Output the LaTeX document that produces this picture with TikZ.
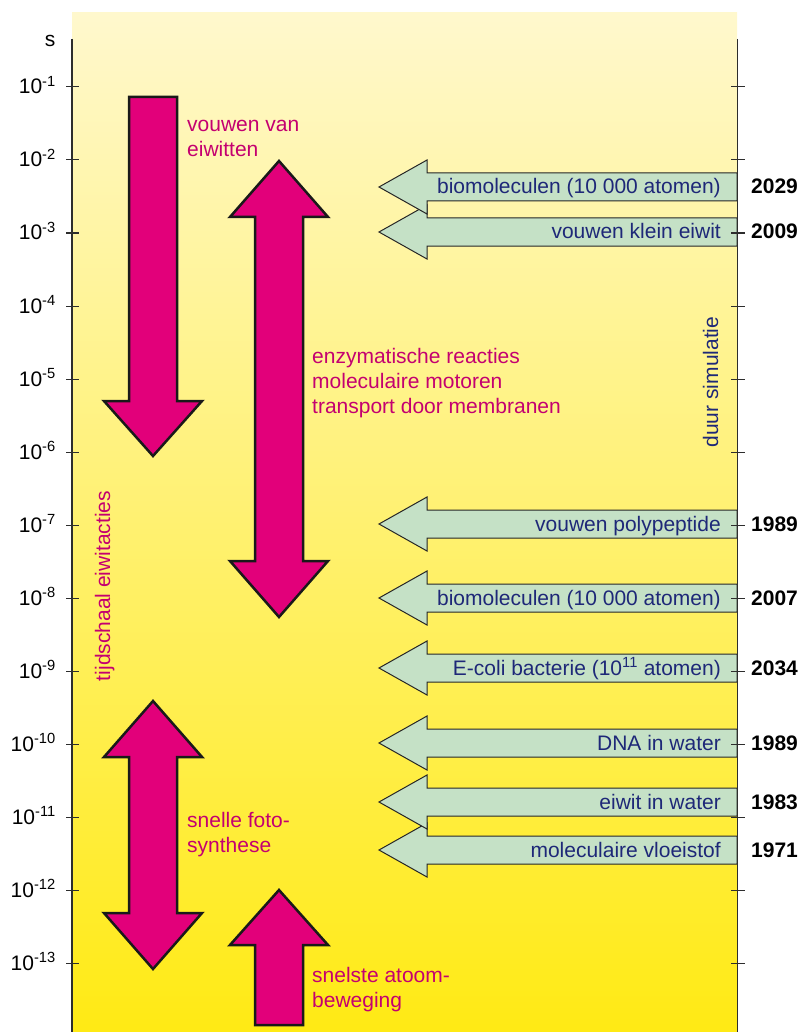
\documentclass[tikz,border=0pt]{standalone}
\usepackage{fontspec}
\setmainfont{Liberation Sans}

\definecolor{timefill}{RGB}{226,0,122}
\definecolor{timetext}{RGB}{196,0,112}
\definecolor{simfill}{RGB}{197,225,198}
\definecolor{simtext}{RGB}{30,40,120}
\definecolor{axisgray}{RGB}{45,45,45}

\tikzset{
  timearrow/.style={fill=timefill, draw=black!90, line width=2.5pt},
  simarrow/.style={fill=simfill, draw=black!85, line width=1pt},
  axisline/.style={draw=axisgray, line width=1.2pt},
  tickline/.style={draw=axisgray, line width=1pt},
  txt/.style={font=\fontsize{21}{25}\selectfont, inner sep=0pt},
  timelbl/.style={txt, text=timetext, anchor=base west},
  simlbl/.style={txt, text=simtext, anchor=base east},
  yearlbl/.style={txt, font=\fontsize{21}{25}\selectfont\bfseries, anchor=base west},
  powlbl/.style={txt, anchor=base east}
}

\begin{document}
\begin{tikzpicture}[x=1pt,y=1pt,yscale=-1,xscale=1]
\useasboundingbox (0,0) rectangle (798,1032);

%Shape: Rectangle [background]
\shade [top color={rgb,255:red,255;green,248;blue,205}, middle color={rgb,255:red,255;green,242;blue,145}, bottom color={rgb,255:red,255;green,234;blue,20}] (72,13) rectangle (737,1032);

%Shape: Arrow [vouwen van eiwitten]
\draw [timearrow] (129,97) -- (177,97) -- (177,401) -- (202,401) -- (153,456) -- (104,401) -- (129,401) -- cycle ;
%Shape: Arrow [enzymatische reacties]
\draw [timearrow] (279,161) -- (328,217) -- (303,217) -- (303,561) -- (328,561) -- (279,617) -- (230,561) -- (255,561) -- (255,217) -- (230,217) -- cycle ;
%Shape: Arrow [snelle fotosynthese]
\draw [timearrow] (153,701) -- (202,757) -- (177,757) -- (177,913) -- (202,913) -- (153,969) -- (104,913) -- (129,913) -- (129,757) -- (104,757) -- cycle ;
%Shape: Arrow [snelste atoombeweging]
\draw [timearrow] (279,890) -- (328,945) -- (303,945) -- (303,1025) -- (255,1025) -- (255,945) -- (230,945) -- cycle ;

%Shape: Arrow [sim 2009]
\draw [simarrow] (737,218) -- (427,218) -- (427,205) -- (379,232) -- (427,259) -- (427,246) -- (737,246) -- cycle ;
%Shape: Arrow [sim 2029]
\draw [simarrow] (737,173) -- (427,173) -- (427,160) -- (379,187) -- (427,214) -- (427,201) -- (737,201) -- cycle ;
%Shape: Arrow [sim 1989]
\draw [simarrow] (737,510) -- (427,510) -- (427,497) -- (379,524) -- (427,551) -- (427,538) -- (737,538) -- cycle ;
%Shape: Arrow [sim 2007]
\draw [simarrow] (737,584) -- (427,584) -- (427,571) -- (379,598) -- (427,625) -- (427,612) -- (737,612) -- cycle ;
%Shape: Arrow [sim 2034]
\draw [simarrow] (737,654) -- (427,654) -- (427,641) -- (379,668) -- (427,695) -- (427,682) -- (737,682) -- cycle ;
%Shape: Arrow [sim 1989 b]
\draw [simarrow] (737,729) -- (427,729) -- (427,716) -- (379,743) -- (427,770) -- (427,757) -- (737,757) -- cycle ;
%Shape: Arrow [sim 1971]
\draw [simarrow] (737,836) -- (427,836) -- (427,823) -- (379,850) -- (427,877) -- (427,864) -- (737,864) -- cycle ;
%Shape: Arrow [sim 1983]
\draw [simarrow] (737,788) -- (427,788) -- (427,775) -- (379,802) -- (427,829) -- (427,816) -- (737,816) -- cycle ;

%Straight Lines [left axis]
\draw [axisline] (72,39) -- (72,1032) ;
%Straight Lines [right axis]
\draw [axisline] (737.5,39) -- (737.5,1032) ;

%Straight Lines [left ticks]
\draw [tickline] (66,87) -- (79,87) ;
\draw [tickline] (66,160) -- (79,160) ;
\draw [tickline] (66,233) -- (79,233) ;
\draw [tickline] (66,306) -- (79,306) ;
\draw [tickline] (66,379) -- (79,379) ;
\draw [tickline] (66,452) -- (79,452) ;
\draw [tickline] (66,525) -- (79,525) ;
\draw [tickline] (66,598) -- (79,598) ;
\draw [tickline] (66,671) -- (79,671) ;
\draw [tickline] (66,744) -- (79,744) ;
\draw [tickline] (66,817) -- (79,817) ;
\draw [tickline] (66,890) -- (79,890) ;
\draw [tickline] (66,963) -- (79,963) ;

%Straight Lines [right ticks]
\draw [tickline] (731,87) -- (745,87) ;
\draw [tickline] (731,160) -- (745,160) ;
\draw [tickline] (731,233) -- (745,233) ;
\draw [tickline] (731,306) -- (745,306) ;
\draw [tickline] (731,379) -- (745,379) ;
\draw [tickline] (731,452) -- (745,452) ;
\draw [tickline] (731,525) -- (745,525) ;
\draw [tickline] (731,598) -- (745,598) ;
\draw [tickline] (731,671) -- (745,671) ;
\draw [tickline] (731,744) -- (745,744) ;
\draw [tickline] (731,817) -- (745,817) ;
\draw [tickline] (731,890) -- (745,890) ;
\draw [tickline] (731,963) -- (745,963) ;

% Text Node
\node [txt, anchor=base] (unit) at (50,47) {s};
% Text Node
\node [powlbl] (p1) at (56,94) {10\textsuperscript{-1}};
\node [powlbl] (p2) at (56,167) {10\textsuperscript{-2}};
\node [powlbl] (p3) at (56,240) {10\textsuperscript{-3}};
\node [powlbl] (p4) at (56,313) {10\textsuperscript{-4}};
\node [powlbl] (p5) at (56,386) {10\textsuperscript{-5}};
\node [powlbl] (p6) at (56,459) {10\textsuperscript{-6}};
\node [powlbl] (p7) at (56,532) {10\textsuperscript{-7}};
\node [powlbl] (p8) at (56,605) {10\textsuperscript{-8}};
\node [powlbl] (p9) at (56,678) {10\textsuperscript{-9}};
\node [powlbl] (p10) at (56,751) {10\textsuperscript{-10}};
\node [powlbl] (p11) at (56,824) {10\textsuperscript{-11}};
\node [powlbl] (p12) at (56,897) {10\textsuperscript{-12}};
\node [powlbl] (p13) at (56,970) {10\textsuperscript{-13}};

% Text Node
\node [txt, text=timetext, rotate=90, anchor=base] (timescale) at (110,586) {tijdschaal eiwitacties};
% Text Node
\node [txt, text=simtext, rotate=90, anchor=base] (simduration) at (718,382) {duur simulatie};

% Text Node
\node [timelbl] (fold1) at (187,132) {vouwen van};
\node [timelbl] (fold2) at (187,157) {eiwitten};
% Text Node
\node [timelbl] (enz1) at (312,363) {enzymatische reacties};
\node [timelbl] (enz2) at (312,388) {moleculaire motoren};
\node [timelbl] (enz3) at (312,413) {transport door membranen};
% Text Node
\node [timelbl] (photo1) at (187,827) {snelle foto-};
\node [timelbl] (photo2) at (187,852) {synthese};
% Text Node
\node [timelbl] (atom1) at (312,982) {snelste atoom-};
\node [timelbl] (atom2) at (312,1007) {beweging};

% Text Node
\node [simlbl] (sim1) at (721,194) {biomoleculen (10 000 atomen)};
\node [simlbl] (sim2) at (721,239) {vouwen klein eiwit};
\node [simlbl] (sim3) at (721,531) {vouwen polypeptide};
\node [simlbl] (sim4) at (721,605) {biomoleculen (10 000 atomen)};
\node [simlbl] (sim5) at (721,675) {E-coli bacterie (10\textsuperscript{11} atomen)};
\node [simlbl] (sim6) at (721,750) {DNA in water};
\node [simlbl] (sim7) at (721,809) {eiwit in water};
\node [simlbl] (sim8) at (721,857) {moleculaire vloeistof};

% Text Node
\node [yearlbl] (yr1) at (751,194) {2029};
\node [yearlbl] (yr2) at (751,239) {2009};
\node [yearlbl] (yr3) at (751,531) {1989};
\node [yearlbl] (yr4) at (751,605) {2007};
\node [yearlbl] (yr5) at (751,675) {2034};
\node [yearlbl] (yr6) at (751,750) {1989};
\node [yearlbl] (yr7) at (751,809) {1983};
\node [yearlbl] (yr8) at (751,857) {1971};

\end{tikzpicture}
\end{document}
